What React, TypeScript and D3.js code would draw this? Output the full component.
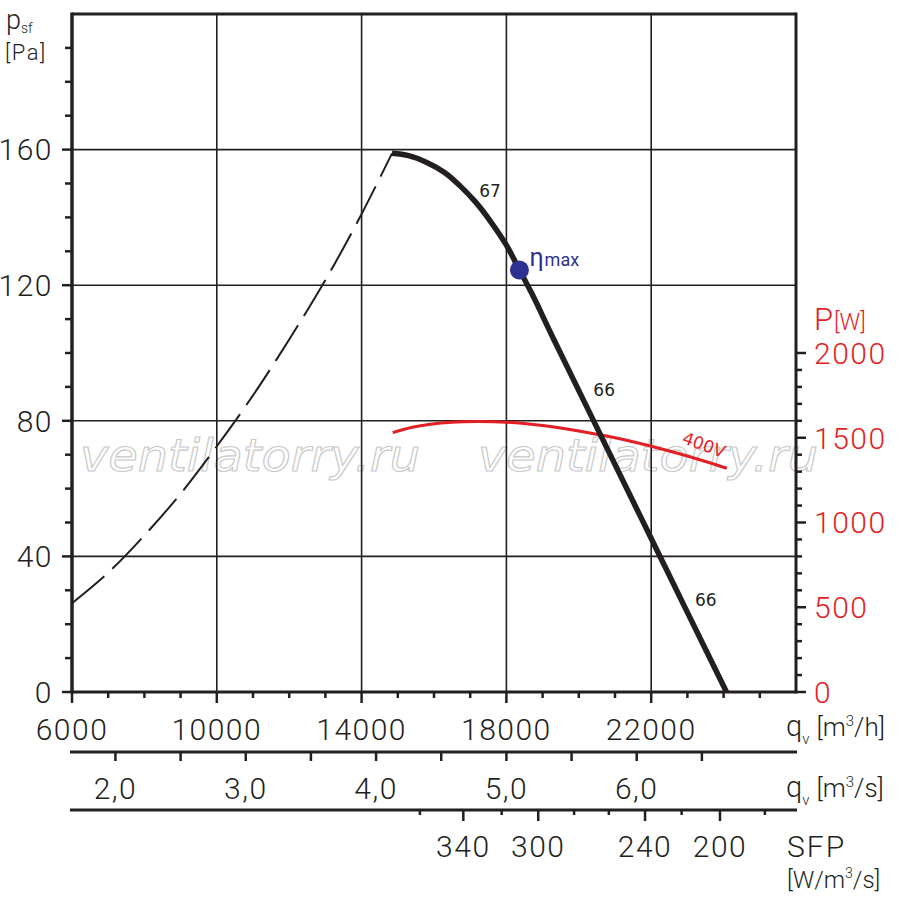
import React from 'react';
import * as d3 from 'd3';

// fan curve values
const pressureTicks = [0, 40, 80, 120, 160];
const flowLabels = [6000, 10000, 14000, 18000, 22000];
const powerTicks = [0, 500, 1000, 1500, 2000];
const flowSecLabels = [2, 3, 4, 5, 6];
const flowSecTicks = [2, 2.5, 3, 3.5, 4, 4.5, 5, 5.5, 6, 6.5];

// SFP scale: value and the flow (m3/h) where its tick sits
const sfpTicks: { sfp: number; q: number; label: boolean }[] = [
  { sfp: 360, q: 15610, label: false },
  { sfp: 340, q: 16810, label: true },
  { sfp: 320, q: 17870, label: false },
  { sfp: 300, q: 18880, label: true },
  { sfp: 280, q: 19870, label: false },
  { sfp: 260, q: 20830, label: false },
  { sfp: 240, q: 21830, label: true },
  { sfp: 220, q: 22840, label: false },
  { sfp: 200, q: 23900, label: true },
  { sfp: 180, q: 25140, label: false },
];

// [q m3/h, psf Pa]
const pressureCurve: [number, number][] = [
  [14840, 158.9], [15300, 158.2], [15800, 156.2], [16300, 153.2], [16720, 149.3],
  [17150, 144.5], [17550, 139], [18000, 131.8], [18360, 124.5], [18700, 117.6],
  [19300, 104.2], [20400, 80.2], [21500, 56.2], [22220, 40.5], [23000, 23.5],
  [24080, 0],
];

// system curve (dashed)
const systemCurve: [number, number][] = [
  [6000, 26.2], [7000, 35.2], [8000, 46.2], [9000, 58.5], [10000, 72.5],
  [11000, 87.5], [12000, 104], [13000, 121.5], [14000, 141], [14840, 158.9],
];

// [q m3/h, P W]
const powerCurve: [number, number][] = [
  [14860, 1530], [15400, 1562], [15900, 1580], [16500, 1592], [17200, 1596],
  [18000, 1592], [19000, 1572], [20000, 1540], [21000, 1500], [22000, 1450],
  [23000, 1392], [24090, 1320],
];

const etaMax = { q: 18360, p: 124.5 };

const effLabels = [
  { q: 17550, p: 146, text: '67' },
  { q: 20700, p: 87.3, text: '66' },
  { q: 23510, p: 25.5, text: '66' },
];
const voltLabel = { q: 23400, p: 1425, text: '400V' };

const BLACK = '#231f20';
const RED = '#e31e24';
const BLUE = '#2e3192';
const NUM_FONT = 'Roboto, "DejaVu Sans", sans-serif';

const App: React.FC = () => {
  const x = d3.scaleLinear().domain([6000, 26000]).range([72, 796]);
  const y = d3.scaleLinear().domain([0, 200]).range([692, 14]);
  const yP = d3.scaleLinear().domain([0, 4000]).range([692, 14]);

  const mainLine = d3.line<[number, number]>()
    .x(d => x(d[0]))
    .y(d => y(d[1]))
    .curve(d3.curveCatmullRom.alpha(0.5));

  const powerLine = d3.line<[number, number]>()
    .x(d => x(d[0]))
    .y(d => yP(d[1]))
    .curve(d3.curveCatmullRom.alpha(0.5));

  const minorP = d3.range(0, 200, 10);
  const minorQ = d3.range(6000, 26000, 1000);
  const minorW = d3.range(0, 2001, 100);

  const x0 = x(6000);
  const x1 = x(26000);
  const yTop = y(200);
  const yBot = y(0);
  const axis2Y = 752;
  const axis3Y = 810;

  const numStyle = { fontFamily: NUM_FONT, fontSize: 30, fontWeight: 300, letterSpacing: 1.5 } as const;

  const vAngle = Math.atan2(yP(1320) - yP(1450), x(24090) - x(22000)) * 180 / Math.PI;
  const vx = x(voltLabel.q);
  const vy = yP(voltLabel.p);

  return (
    <svg width={900} height={908} style={{ position: 'absolute', left: 0, top: 0, background: '#fff' }}>
      {/* watermark */}
      {[80, 478].map(wx => (
        <text key={wx} x={wx} y={471} fontFamily='"DejaVu Sans", sans-serif' fontStyle="italic" fontSize={44}
          fill="none" stroke="#c8c8c8" strokeWidth={1.1} textLength={340} lengthAdjust="spacingAndGlyphs">
          ventilatorry.ru
        </text>
      ))}

      {/* grid */}
      {flowLabels.slice(1).map(q => (
        <line key={'gv' + q} x1={x(q)} x2={x(q)} y1={yTop} y2={yBot} stroke={BLACK} strokeWidth={1.6} />
      ))}
      {pressureTicks.slice(1).map(p => (
        <line key={'gh' + p} x1={x0} x2={x1} y1={y(p)} y2={y(p)} stroke={BLACK} strokeWidth={1.6} />
      ))}

      {/* frame */}
      <line x1={x0} x2={x1} y1={yTop} y2={yTop} stroke={BLACK} strokeWidth={3} />
      <line x1={x0} x2={x0} y1={yTop - 1.5} y2={yBot + 1.5} stroke={BLACK} strokeWidth={3.5} />
      <line x1={x1} x2={x1} y1={yTop - 1.5} y2={yBot + 1.5} stroke={BLACK} strokeWidth={3} />
      <line x1={x0} x2={x1} y1={yBot} y2={yBot} stroke={BLACK} strokeWidth={3} />

      {/* left ticks */}
      {minorP.map(p => (
        <line key={'lt' + p} x1={p % 40 === 0 ? 62 : 65} x2={x0} y1={y(p)} y2={y(p)} stroke={BLACK} strokeWidth={2.5} />
      ))}
      {pressureTicks.map(p => (
        <text key={'ll' + p} x={53} y={y(p)} dy="0.36em" textAnchor="end" fill={BLACK} style={numStyle}>{p}</text>
      ))}

      {/* bottom ticks m3/h */}
      {minorQ.map(q => (
        <line key={'bt' + q} x1={x(q)} x2={x(q)} y1={yBot} y2={(q - 6000) % 4000 === 0 ? 703 : 698} stroke={BLACK} strokeWidth={2.5} />
      ))}
      {flowLabels.map(q => (
        <text key={'bl' + q} x={x(q)} y={740} textAnchor="middle" fill={BLACK} style={numStyle}>{q}</text>
      ))}

      {/* right ticks W */}
      {minorW.map(w => (
        <line key={'rt' + w} x1={x1} x2={w % 500 === 0 ? 806 : 802} y1={yP(w)} y2={yP(w)} stroke={BLACK} strokeWidth={2.5} />
      ))}
      {powerTicks.map(w => (
        <text key={'rl' + w} x={814} y={yP(w)} dy="0.36em" fill={RED} style={numStyle}>{w}</text>
      ))}
      <text x={814} y={330} fill={RED} fontFamily={NUM_FONT} fontWeight={300}>
        <tspan fontSize={31}>P</tspan>
        <tspan fontSize={23} dx={1}>[W]</tspan>
      </text>

      {/* m3/s axis */}
      <line x1={70} x2={797} y1={axis2Y} y2={axis2Y} stroke={BLACK} strokeWidth={3} />
      {flowSecTicks.map(s => (
        <line key={'st' + s} x1={x(s * 3600)} x2={x(s * 3600)} y1={axis2Y} y2={761} stroke={BLACK} strokeWidth={2.5} />
      ))}
      {flowSecLabels.map(s => (
        <text key={'sl' + s} x={x(s * 3600)} y={799} textAnchor="middle" fill={BLACK} style={numStyle}>{s.toFixed(1).replace('.', ',')}</text>
      ))}

      {/* SFP axis */}
      <line x1={70} x2={797} y1={axis3Y} y2={axis3Y} stroke={BLACK} strokeWidth={3} />
      {sfpTicks.map(t => (
        <line key={'ft' + t.sfp} x1={x(t.q)} x2={x(t.q)} y1={axis3Y} y2={t.label ? 821 : 815} stroke={BLACK} strokeWidth={2.5} />
      ))}
      {sfpTicks.filter(t => t.label).map(t => (
        <text key={'fl' + t.sfp} x={x(t.q)} y={857} textAnchor="middle" fill={BLACK} style={numStyle}>{t.sfp}</text>
      ))}

      {/* axis titles */}
      <text x={6} y={29} fill={BLACK} fontFamily={NUM_FONT} fontWeight={300}>
        <tspan fontSize={27}>p</tspan>
        <tspan fontSize={14} dy={4}>sf</tspan>
      </text>
      <text x={5} y={60} fill={BLACK} fontFamily={NUM_FONT} fontWeight={300} fontSize={22} letterSpacing={1.5}>[Pa]</text>

      {[{ yy: 736, u: 'h' }, { yy: 797, u: 's' }].map(t => (
        <text key={t.u} x={786} y={t.yy} fill={BLACK} fontFamily={NUM_FONT} fontWeight={300}>
          <tspan fontSize={29}>q</tspan>
          <tspan fontSize={15} dy={8}>v</tspan>
          <tspan fontSize={26} dy={-8} dx={7}>[m</tspan>
          <tspan fontSize={15} dy={-10}>3</tspan>
          <tspan fontSize={26} dy={10}>/{t.u}]</tspan>
        </text>
      ))}
      <text x={787} y={857} fill={BLACK} fontFamily={NUM_FONT} fontWeight={300} fontSize={30} letterSpacing={2}>SFP</text>
      <text x={787} y={888} fill={BLACK} fontFamily={NUM_FONT} fontWeight={300}>
        <tspan fontSize={24}>[W/m</tspan>
        <tspan fontSize={14} dy={-10}>3</tspan>
        <tspan fontSize={24} dy={10}>/s]</tspan>
      </text>

      {/* curves */}
      <path d={mainLine(systemCurve) ?? ''} fill="none" stroke={BLACK} strokeWidth={2} strokeDasharray="42 11" />
      <path d={powerLine(powerCurve) ?? ''} fill="none" stroke={RED} strokeWidth={3} />
      <path d={mainLine(pressureCurve) ?? ''} fill="none" stroke={BLACK} strokeWidth={5.5} />

      {effLabels.map((l, i) => (
        <text key={'e' + i} x={x(l.q)} y={y(l.p)} textAnchor="middle" fill={BLACK}
          fontFamily='"DejaVu Sans", sans-serif' fontSize={17}>{l.text}</text>
      ))}
      <text x={vx} y={vy} textAnchor="middle" fill={RED}
        fontFamily='"DejaVu Sans", sans-serif' fontSize={17}
        transform={`rotate(${vAngle + 4}, ${vx}, ${vy})`}>{voltLabel.text}</text>

      <circle cx={x(etaMax.q)} cy={y(etaMax.p)} r={9.5} fill={BLUE} />
      <text x={x(etaMax.q) + 10} y={y(etaMax.p) - 4} fill={BLUE} fontFamily={NUM_FONT}>
        <tspan fontSize={25}>η</tspan>
        <tspan fontSize={18} dx={1}>max</tspan>
      </text>
    </svg>
  );
};

export default App;
